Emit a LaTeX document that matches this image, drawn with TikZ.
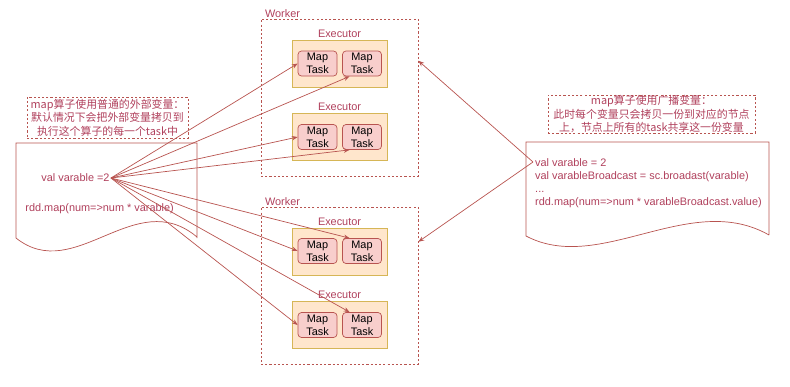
\documentclass[tikz,border=0pt]{standalone}
\usepackage{fontspec}
\setmainfont{Liberation Sans}
\newfontfamily\cjk{Noto Sans CJK SC}
\usetikzlibrary{arrows.meta}
\definecolor{linered}{HTML}{B85450}
\definecolor{txtred}{HTML}{B0405C}
\definecolor{taskfill}{HTML}{F8CECC}
\definecolor{exfill}{HTML}{FFE6CC}
\definecolor{exdraw}{HTML}{D6B656}

\begin{document}
\begin{tikzpicture}[x=0.03cm,y=-0.03cm,>={Stealth[length=5pt,width=3.8pt]},
  every node/.style={font=\fontsize{9.3}{11.2}\selectfont},
  task/.style={draw=linered,fill=taskfill,rounded corners=3pt,minimum width=1.17cm,minimum height=0.75cm,align=center,inner sep=0pt,line width=0.6pt},
  executor/.style={draw=exdraw,fill=exfill,minimum width=2.85cm,minimum height=1.41cm,line width=0.7pt},
  worker/.style={draw=linered,dash pattern=on 1.8pt off 1.8pt,minimum width=4.71cm,minimum height=4.71cm,line width=0.6pt},
  note/.style={draw=linered,dash pattern=on 1.8pt off 1.8pt,text=txtred,align=center,inner sep=0pt,line width=0.6pt,font=\cjk\fontsize{9.3}{11.6}\selectfont},
  link/.style={->,draw=linered,line width=0.6pt}]
\useasboundingbox (0,0) rectangle (790,386);

% Workers
\node[worker] (w1) at (339.5,97.5) {};
\node[worker] (w2) at (339.5,285.5) {};
\node[anchor=south west,text=txtred,inner sep=1pt] (w1lbl) at ([xshift=0.09cm]w1.north west) {Worker};
\node[anchor=south west,text=txtred,inner sep=1pt] (w2lbl) at ([xshift=0.09cm]w2.north west) {Worker};

% Executors
\node[executor] (ex1) at (339.5,63.5) {};
\node[executor] (ex2) at (339.5,136.5) {};
\node[executor] (ex3) at (339.5,251.5) {};
\node[executor] (ex4) at (339.5,324.5) {};
\node[anchor=south,text=txtred,inner sep=1.5pt] at (ex1.north) {Executor};
\node[anchor=south,text=txtred,inner sep=1.5pt] at (ex2.north) {Executor};
\node[anchor=south,text=txtred,inner sep=1.5pt] at (ex3.north) {Executor};
\node[anchor=south,text=txtred,inner sep=1.5pt] at (ex4.north) {Executor};

% Map tasks
\node[task] (t11) at (317.5,63.5) {Map\\Task};
\node[task] (t12) at (362,63.5) {Map\\Task};
\node[task] (t21) at (317.5,137) {Map\\Task};
\node[task] (t22) at (362,137) {Map\\Task};
\node[task] (t31) at (317.5,251) {Map\\Task};
\node[task] (t32) at (362,251) {Map\\Task};
\node[task] (t41) at (317.5,325) {Map\\Task};
\node[task] (t42) at (362,325) {Map\\Task};

% Left document
\draw[linered,line width=0.6pt] (197,238) -- (197,143) -- (16,143) -- (16,238) .. controls (75,285) and (135,185) .. (197,237);
\node[anchor=west,text=txtred,inner sep=1pt] (varL) at (40,178) {val varable =2};
\node[anchor=west,text=txtred,inner sep=1pt] (mapL) at (24,209) {rdd.map(num=>num * varable)};
\node[note,minimum width=4.83cm,minimum height=1.23cm] (noteL) at (107.5,117.5) {map算子使用普通的外部变量：\\默认情况下会把外部变量拷贝到\\执行这个算子的每一个task中};

% Right document
\draw[linered,line width=0.6pt] (769,235) -- (769,142) -- (526,142) -- (526,236) .. controls (600,275) and (690,190) .. (769,235);
\node[anchor=north west,align=left,text=txtred,inner sep=0pt] (codeR) at (535,158) {val varable = 2\\val varableBroadcast = sc.broadast(varable)\\...\\rdd.map(num=>num * varableBroadcast.value)};
\coordinate (bcast) at (533,162);
\node[note,minimum width=6.21cm,minimum height=1.14cm] (noteR) at (651.5,114) {map算子使用广播变量：\\此时每个变量只会拷贝一份到对应的节点\\上，节点上所有的task共享这一份变量};

% Copies of the plain variable
\draw[link] (varL.east) -- (t11.west);
\draw[link] (varL.east) -- (t12.226);
\draw[link] (varL.east) -- (t21.west);
\draw[link] (varL.east) -- (t22.226);
\draw[link] (varL.east) -- (t32.134);
\draw[link] (varL.east) -- (t31.west);
\draw[link] (varL.east) -- (t42.134);
\draw[link] (varL.east) -- (t41.west);

% Broadcast variable
\draw[link] (bcast) -- (w1.25);
\draw[link] (bcast) -- (w2.29);
\end{tikzpicture}
\end{document}
